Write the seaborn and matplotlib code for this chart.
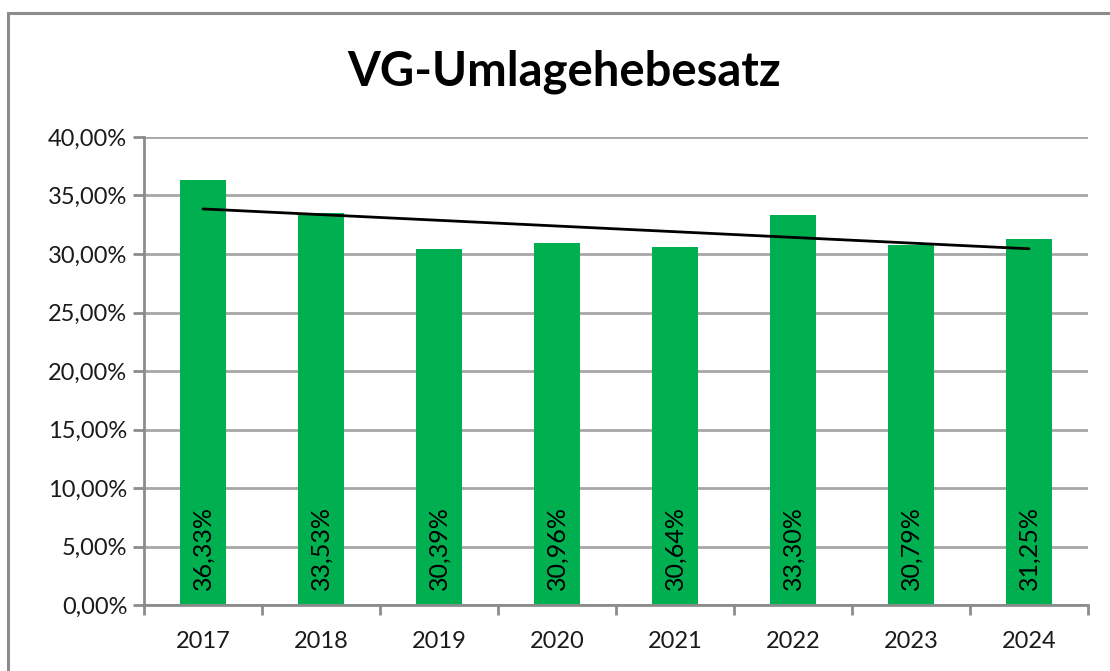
import matplotlib
matplotlib.use("Agg")
import matplotlib.pyplot as plt
import seaborn as sns
import numpy as np
import pandas as pd
from matplotlib.patches import Rectangle
from matplotlib.ticker import FuncFormatter, MultipleLocator, FixedLocator

years = ["2017", "2018", "2019", "2020", "2021", "2022", "2023", "2024"]
rates = [36.33, 33.53, 30.39, 30.96, 30.64, 33.30, 30.79, 31.25]
labels = ["36,33%", "33,53%", "30,39%", "30,96%", "30,64%", "33,30%", "30,79%", "31,25%"]
title = "VG-Umlagehebesatz"

sns.set_theme(style="white")
plt.rcParams['font.family'] = ['Lato', 'DejaVu Sans']

df = pd.DataFrame({"Jahr": years, "Satz": rates})

fig = plt.figure(figsize=(11.10, 6.71), dpi=100)
ax = fig.add_axes([144/1110, 66/671, (1088-144)/1110, (605-137)/671])

sns.barplot(data=df, x="Jahr", y="Satz", color="#00B050", saturation=1,
            width=0.39, ax=ax, zorder=2)
for p in ax.patches:
    p.set_edgecolor("none")

# linear trendline
xs = np.arange(len(rates))
k, d = np.polyfit(xs, rates, 1)
ax.plot([xs[0], xs[-1]], [k*xs[0]+d, k*xs[-1]+d], color="black", lw=2, zorder=3)

for i, lab in enumerate(labels):
    ax.annotate(lab, (i, 0), xytext=(0, 11), textcoords="offset points",
                rotation=90, ha="center", va="bottom", fontsize=18, color="black",
                zorder=4)

ax.set_ylim(0, 40)
ax.set_xlim(-0.5, len(years) - 0.5)
ax.yaxis.set_major_locator(MultipleLocator(5))
ax.yaxis.set_major_formatter(FuncFormatter(lambda v, p: f"{v:.2f}".replace(".", ",") + "%"))
ax.grid(axis="y", color="#A6A6A6", lw=2, zorder=0)
ax.set_axisbelow(True)
ax.set_xlabel("")
ax.set_ylabel("")

for s in ["top", "right"]:
    ax.spines[s].set_visible(False)
for s in ["left", "bottom"]:
    ax.spines[s].set_color("#8C8C8C")
    ax.spines[s].set_linewidth(2)

ax.tick_params(axis="y", which="major", left=True, length=8, width=2, color="#8C8C8C",
               labelsize=17, labelcolor="#1a1a1a", pad=4)
ax.tick_params(axis="x", which="major", bottom=False, length=0, labelsize=17,
               labelcolor="#1a1a1a", pad=19)
ax.xaxis.set_minor_locator(FixedLocator(np.arange(-0.5, len(years), 1.0)))
ax.tick_params(axis="x", which="minor", bottom=True, length=7, width=2, color="#8C8C8C")

fig.text((338+790)/2/1110, 1 - 72/671, title, ha="center", va="center",
         fontsize=34, fontweight="bold", color="black")

fig.patches.append(Rectangle((8/1110, -0.05), 1.2, 1 - 13/671 + 0.05,
                             transform=fig.transFigure, fill=False,
                             edgecolor="#8C8C8C", lw=2.2))

fig.savefig("out.png", dpi=100)
